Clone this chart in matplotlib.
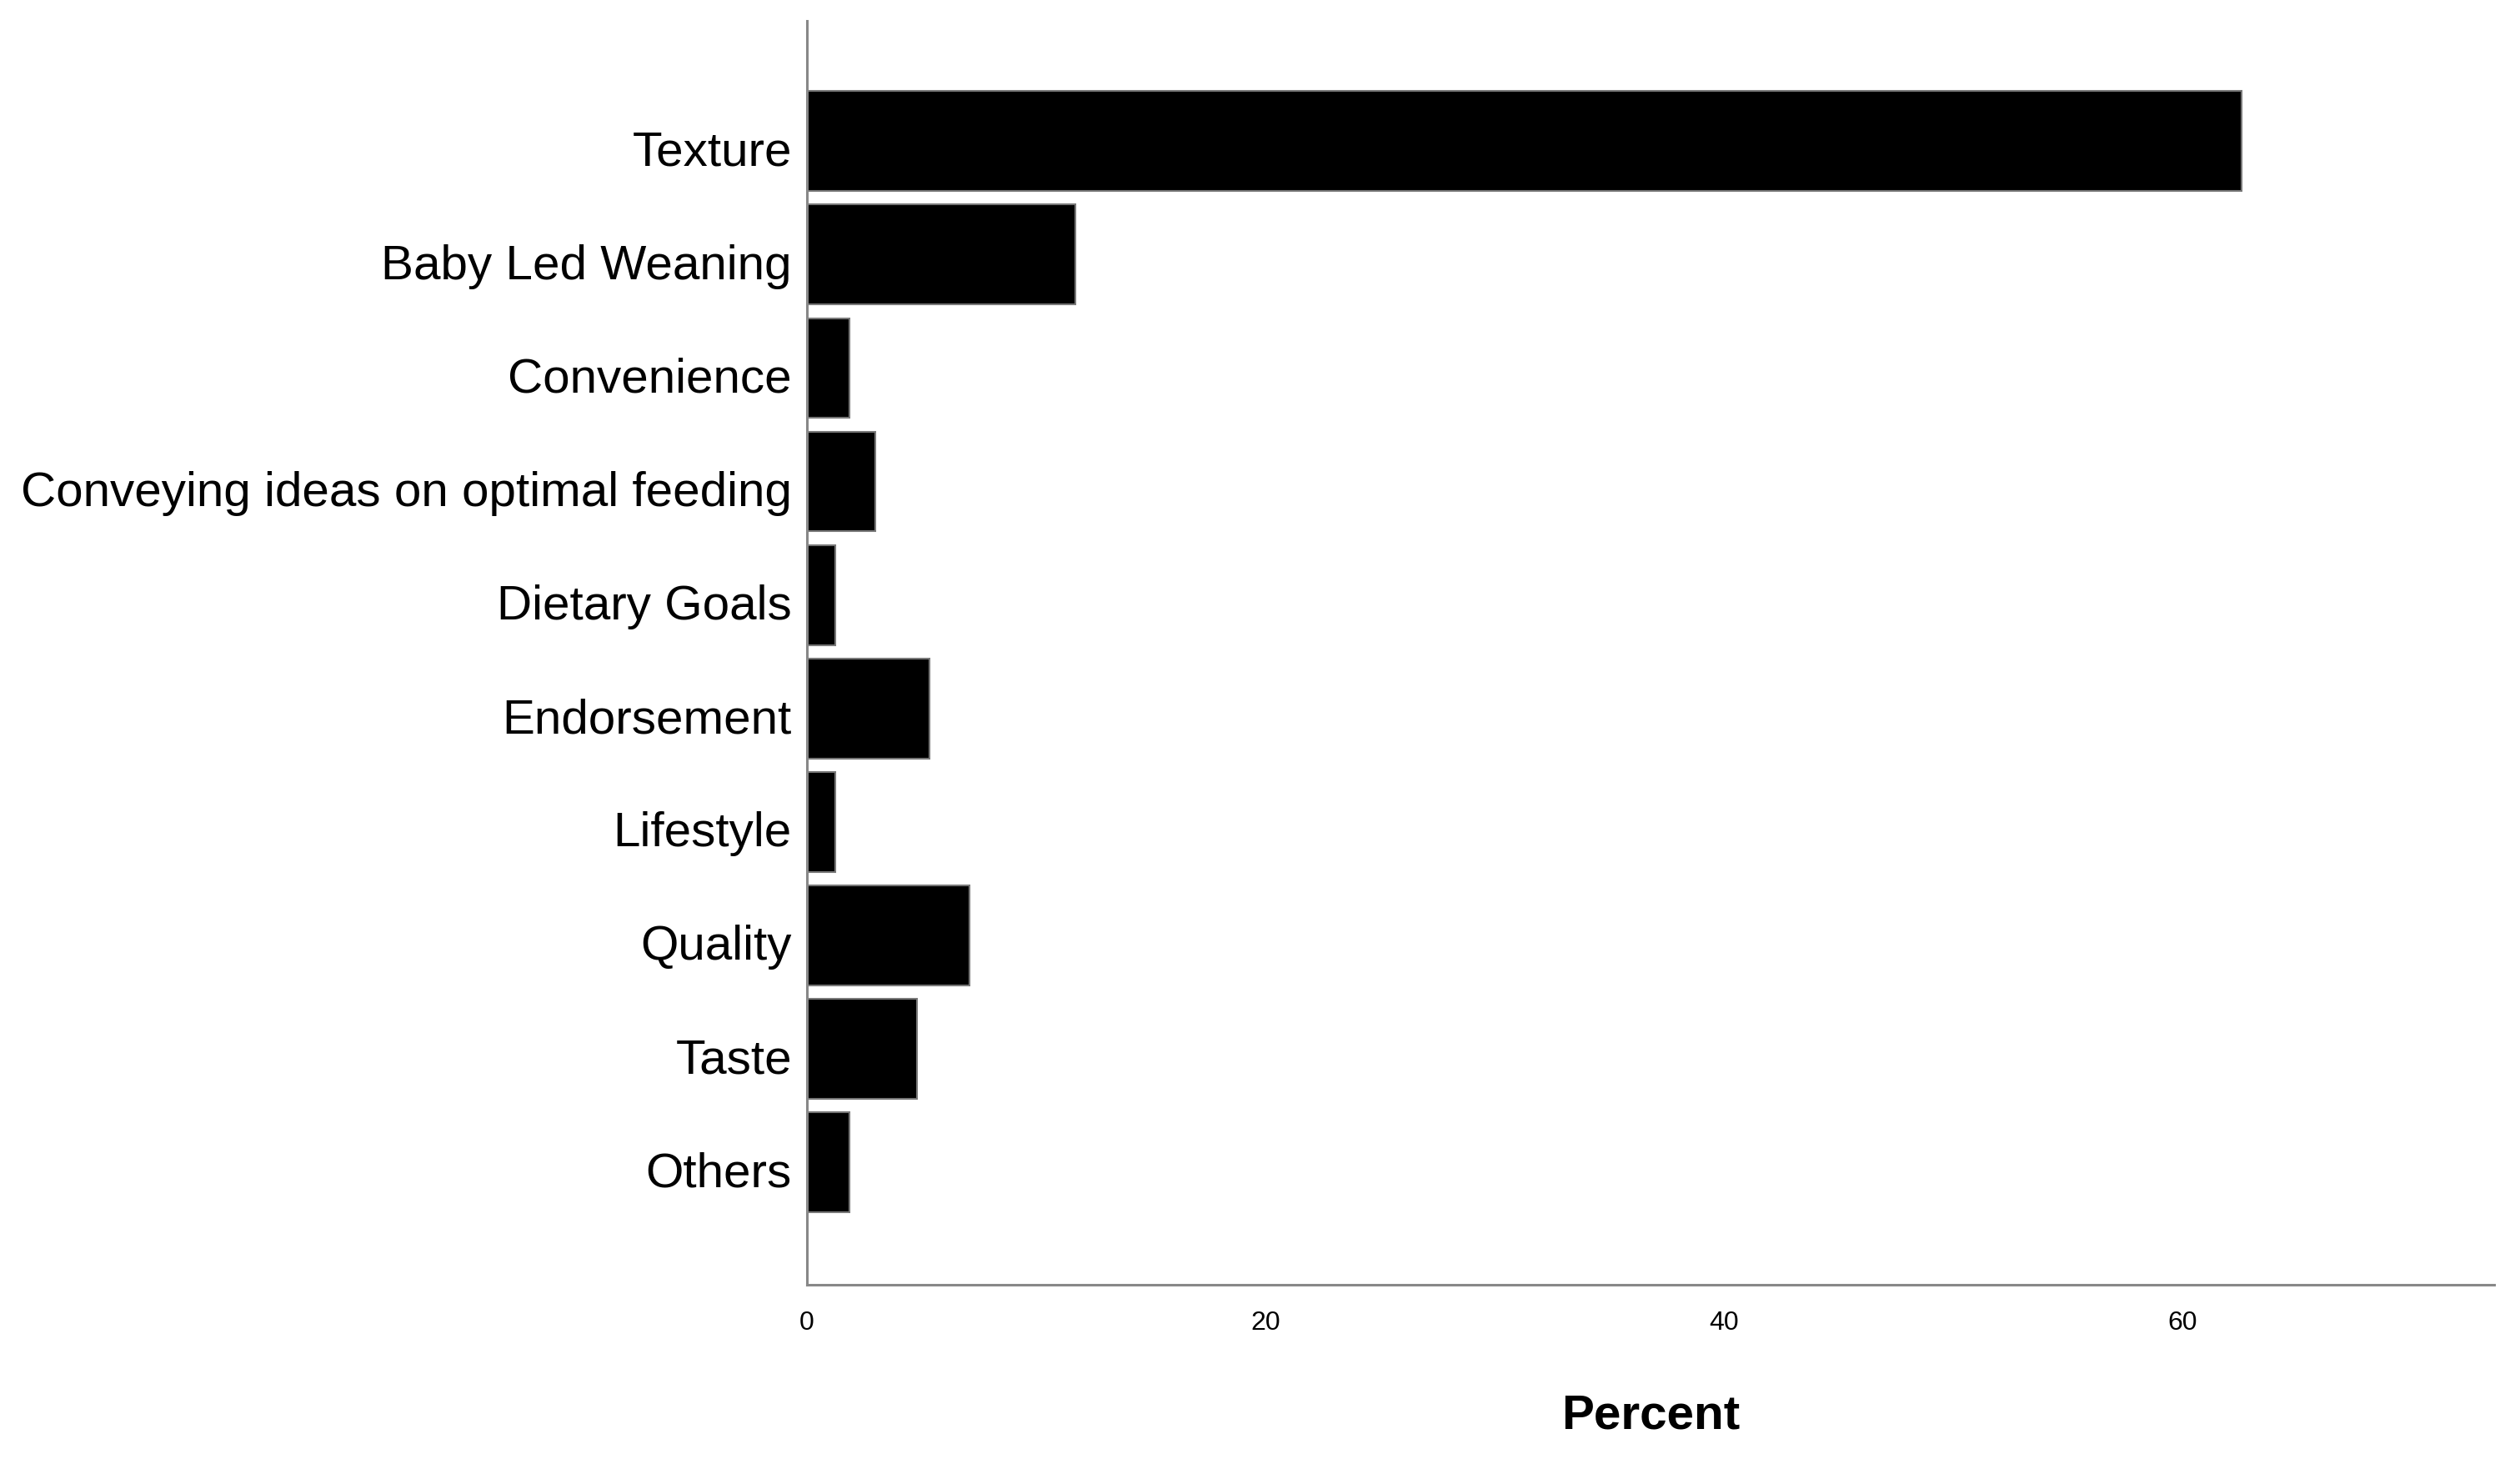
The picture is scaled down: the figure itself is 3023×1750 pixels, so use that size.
import matplotlib.pyplot as plt
import matplotlib.transforms as mtransforms
import numpy as np

categorias = ["Texture", "Baby Led Weaning", "Convenience",
              "Conveying ideas on optimal feeding", "Dietary Goals",
              "Endorsement", "Lifestyle", "Quality", "Taste", "Others"]
percentuais = [62.6, 11.7, 1.85, 3.0, 1.25, 5.35, 1.25, 7.1, 4.8, 1.85]
marcas_x = [0, 20, 40, 60]

plt.rcParams['font.family'] = ['Liberation Sans', 'DejaVu Sans']

fig = plt.figure(figsize=(30.23, 17.5), dpi=100)
ax = fig.add_axes([0.3202, 0.1194, 0.6695, 0.8663])

pos = np.arange(len(categorias))
ax.barh(pos, percentuais, height=0.88, color="black",
        edgecolor="#777777", linewidth=1.5)

ax.set_yticks(pos)
ax.set_yticklabels(categorias, fontsize=42)
ax.set_xticks(marcas_x)
ax.set_xticklabels([str(v) for v in marcas_x], fontsize=23)
ax.set_xlim(0, 73.6)
ax.set_ylim(len(categorias) - 1 + 1.08, -1.06)

ax.tick_params(axis='both', length=0)
ax.tick_params(axis='y', pad=13)
ax.tick_params(axis='x', pad=22)

# rotulos do eixo y um pouco abaixo do centro da barra
desloc = mtransforms.ScaledTranslation(0, -6/72, fig.dpi_scale_trans)
for rot in ax.get_yticklabels():
    rot.set_transform(rot.get_transform() + desloc)

for lado in ['top', 'right']:
    ax.spines[lado].set_visible(False)
for lado in ['left', 'bottom']:
    ax.spines[lado].set_color("#888888")
    ax.spines[lado].set_linewidth(2.2)

ax.set_xlabel("Percent", fontsize=42, fontweight="bold", labelpad=50)

plt.savefig("out.png")
